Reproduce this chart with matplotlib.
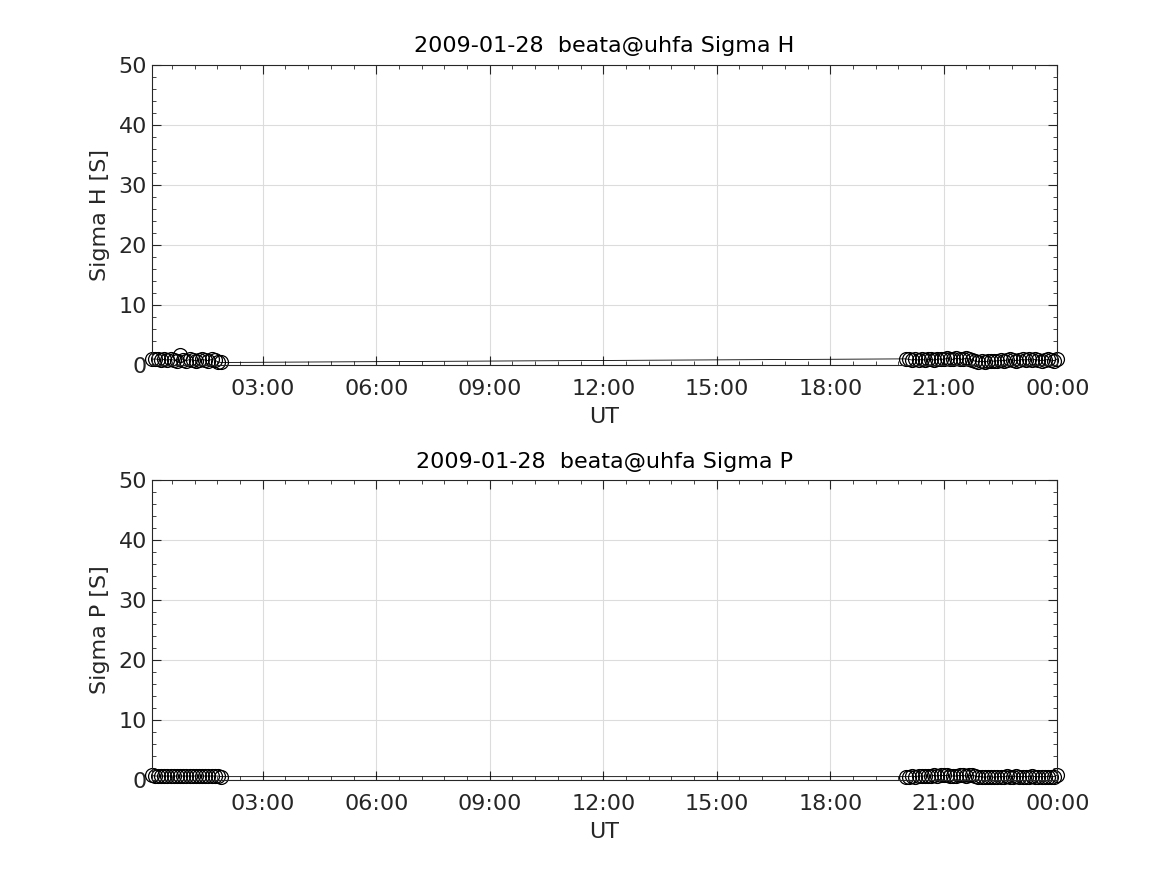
import matplotlib
matplotlib.use('Agg')
import matplotlib.pyplot as plt
from matplotlib.ticker import MultipleLocator, FixedLocator

# time of each sample, minutes after 00:00 UT on 2009-01-28
t_morning = [4, 9, 14, 19, 24, 29, 34, 39, 44, 49, 54, 59, 64, 69, 74, 79, 84, 89, 94, 99, 104, 109, 114]
t_evening = [1200, 1205, 1210, 1215, 1220, 1225, 1230, 1235, 1240, 1245, 1250, 1255,
             1260, 1265, 1270, 1275, 1280, 1285, 1290, 1295, 1300, 1305, 1310, 1315,
             1320, 1325, 1330, 1335, 1340, 1345, 1350, 1355, 1360, 1365, 1370, 1375,
             1380, 1385, 1390, 1395, 1400, 1405, 1410, 1415, 1420, 1425, 1430, 1435, 1440]

sigma_h_morning = [0.9, 1.0, 0.9, 0.8, 0.9, 0.8, 0.9, 0.8, 0.7, 1.6, 0.8, 0.7,
                   0.9, 0.8, 0.7, 0.8, 0.9, 0.8, 0.7, 0.9, 0.8, 0.5, 0.4]
sigma_h_evening = [1.0, 0.9, 0.8, 0.9, 0.8, 0.9, 0.8, 0.9, 0.9, 0.8, 0.9, 1.0,
                   0.9, 1.1, 1.0, 0.9, 1.1, 1.0, 0.9, 1.1, 1.0, 0.8, 0.6, 0.5,
                   0.6, 0.5, 0.6, 0.7, 0.6, 0.7, 0.8, 0.7, 0.8, 0.9, 0.8, 0.7,
                   0.8, 0.9, 0.8, 0.9, 0.8, 0.9, 0.8, 0.7, 0.8, 0.9, 0.8, 0.7, 1.0]

sigma_p_morning = [0.7, 0.6, 0.6, 0.6, 0.6, 0.6, 0.6, 0.6, 0.6, 0.6, 0.6, 0.6,
                   0.6, 0.6, 0.6, 0.6, 0.6, 0.6, 0.6, 0.6, 0.6, 0.6, 0.5]
sigma_p_evening = [0.5, 0.5, 0.6, 0.5, 0.6, 0.6, 0.6, 0.6, 0.6, 0.7, 0.6, 0.7,
                   0.7, 0.7, 0.6, 0.6, 0.6, 0.7, 0.7, 0.6, 0.7, 0.7, 0.6, 0.5,
                   0.5, 0.4, 0.5, 0.5, 0.4, 0.5, 0.5, 0.5, 0.6, 0.5, 0.5, 0.6,
                   0.5, 0.5, 0.5, 0.5, 0.6, 0.5, 0.5, 0.5, 0.5, 0.5, 0.5, 0.5, 0.8]

tick_hours = [3, 6, 9, 12, 15, 18, 21, 24]
tick_labels = ['03:00', '06:00', '09:00', '12:00', '15:00', '18:00', '21:00', '00:00']

date_str = '2009-01-28'
site = 'beata@uhfa'

dark = '#262626'
plt.rcParams['font.family'] = 'DejaVu Sans'
plt.rcParams['font.size'] = 16

fig = plt.figure(figsize=(11.67, 8.75), dpi=100)
ax_h = fig.add_axes([0.130, 0.583, 0.776, 0.343])
ax_p = fig.add_axes([0.130, 0.109, 0.776, 0.342])

panels = [
    (ax_h, sigma_h_morning + sigma_h_evening, 'Sigma H'),
    (ax_p, sigma_p_morning + sigma_p_evening, 'Sigma P'),
]

hours = [m / 60 for m in t_morning + t_evening]

for ax, vals, name in panels:
    ax.plot(hours, vals, '-', color='black', lw=0.6)
    ax.plot(hours, vals, 'o', mfc='none', mec='black', ms=10, mew=0.9, clip_on=False)
    ax.set_xlim(hours[0], hours[-1])
    ax.set_ylim(0, 50)
    ax.xaxis.set_major_locator(FixedLocator(tick_hours))
    ax.set_xticklabels(tick_labels)
    ax.xaxis.set_minor_locator(MultipleLocator(0.6))
    ax.yaxis.set_major_locator(MultipleLocator(10))
    ax.yaxis.set_minor_locator(MultipleLocator(2))
    ax.tick_params(which='both', direction='in', top=True, right=True, colors=dark, labelcolor=dark)
    ax.tick_params(which='major', length=6.5, width=0.8)
    ax.tick_params(which='minor', length=3.2, width=0.6)
    ax.tick_params(axis='x', which='major', pad=10)
    ax.grid(True, which='major', color='#dcdcdc', lw=0.8)
    ax.set_axisbelow(True)
    for s in ax.spines.values():
        s.set_color(dark)
        s.set_linewidth(0.8)
    ax.set_title(f'{date_str}  {site} {name}', fontsize=16, color='black', pad=9)
    ax.set_xlabel('UT', color=dark, labelpad=6)
    ax.set_ylabel(f'{name} [S]', color=dark, labelpad=6)

fig.savefig('out.png', dpi=100)
